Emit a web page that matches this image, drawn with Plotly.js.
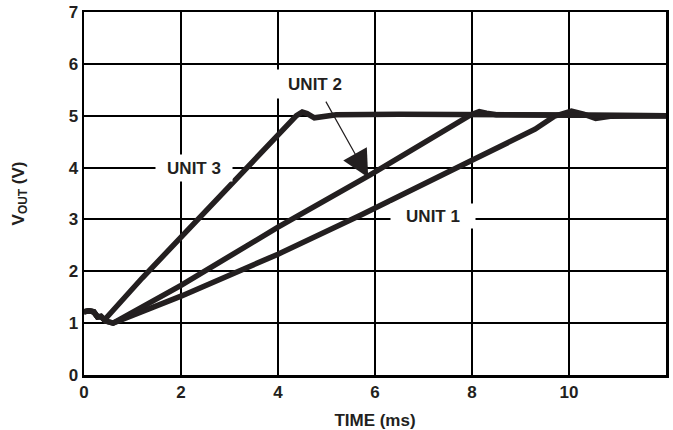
<!DOCTYPE html>
<html>
<head>
<meta charset="utf-8">
<script src="https://cdn.plot.ly/plotly-3.0.1.min.js"></script>
<style>html,body{margin:0;padding:0;background:#fff;}#chart{width:673px;height:430px;}</style>
</head>
<body>
<div id="chart"></div>
<script>
// Time (ms) and VOUT (V)
const unit1Time = [0, 0.1, 0.2, 0.28, 0.35, 0.45, 0.6, 2, 4, 5.7, 8, 9.3, 9.7, 10.05, 10.3, 10.55, 10.85, 12];
const unit1Vout = [1.22, 1.24, 1.22, 1.12, 1.13, 1.04, 1.0, 1.52, 2.33, 3.08, 4.14, 4.74, 4.99, 5.09, 5.03, 4.95, 4.99, 5.0];
const unit2Time = [0, 0.1, 0.2, 0.28, 0.35, 0.45, 0.6, 2, 4, 5.9, 7.98, 8.15, 8.3, 8.5, 12];
const unit2Vout = [1.22, 1.24, 1.22, 1.12, 1.13, 1.04, 1.0, 1.73, 2.85, 3.86, 5.02, 5.08, 5.05, 5.02, 5.0];
const unit3Time = [0, 0.1, 0.2, 0.28, 0.35, 0.42, 1.2, 3.35, 4.38, 4.5, 4.6, 4.75, 4.9, 5.2, 6.5, 8, 10, 12];
const unit3Vout = [1.22, 1.24, 1.22, 1.12, 1.13, 1.06, 1.87, 4.0, 5.0, 5.07, 5.04, 4.96, 4.98, 5.02, 5.03, 5.02, 5.01, 5.0];

const labels = ['UNIT 1', 'UNIT 2', 'UNIT 3'];
const labelTime = [7.2, 4.76, 2.26];
const labelVout = [3.06, 5.61, 4.0];
const arrowTail = [4.97, 5.30];
const arrowTip = [5.86, 3.81];

const xTicks = [0, 2, 4, 6, 8, 10, 12];
const yTicks = [0, 1, 2, 3, 4, 5, 6, 7];

// label box styling (white knock-out behind each label)
const boxStyle = [{w: 82, h: 22}, {w: 82, h: 26}, {w: 74, h: 24}];

const ink = '#231f20';
const fontFam = 'Liberation Sans, Arial, Helvetica, sans-serif';

const mk = (x, y) => ({x, y, type: 'scatter', mode: 'lines',
  line: {color: ink, width: 5.5, shape: 'linear'}, hoverinfo: 'skip'});
const data = [mk(unit1Time, unit1Vout), mk(unit2Time, unit2Vout), mk(unit3Time, unit3Vout)];

const annotations = labels.map((t, i) => ({
  x: labelTime[i], y: labelVout[i], xref: 'x', yref: 'y', text: t, showarrow: false,
  font: {family: fontFam, size: 17, color: ink, weight: 'bold'},
  bgcolor: '#ffffff', width: boxStyle[i].w, height: boxStyle[i].h, borderpad: 1
}));
annotations.push({
  x: arrowTip[0], y: arrowTip[1], ax: arrowTail[0], ay: arrowTail[1],
  xref: 'x', yref: 'y', axref: 'x', ayref: 'y', text: '', showarrow: true,
  arrowhead: 2, arrowsize: 4.5, arrowwidth: 1.2, arrowcolor: ink
});

const axisCommon = {
  showgrid: true, gridcolor: '#000', gridwidth: 2,
  showline: true, linecolor: '#000', linewidth: 2.5, mirror: true,
  zeroline: false, ticks: '', fixedrange: true,
  tickfont: {family: fontFam, size: 17, color: ink, weight: 'bold'}
};

const layout = {
  width: 673, height: 430,
  margin: {l: 84, r: 7, t: 12, b: 55},
  paper_bgcolor: '#fff', plot_bgcolor: '#fff',
  showlegend: false,
  xaxis: Object.assign({}, axisCommon, {
    range: [0, 12], tickvals: xTicks,
    title: {text: 'TIME (ms)', font: {family: fontFam, size: 17, color: ink, weight: 'bold'}, standoff: 14}
  }),
  yaxis: Object.assign({}, axisCommon, {
    range: [0, 7], tickvals: yTicks,
    title: {text: 'V<sub>OUT</sub> (V)', font: {family: fontFam, size: 17, color: ink, weight: 'bold'}, standoff: 40}
  }),
  annotations: annotations
};

Plotly.newPlot('chart', data, layout, {displayModeBar: false, staticPlot: true});
</script>
</body>
</html>
